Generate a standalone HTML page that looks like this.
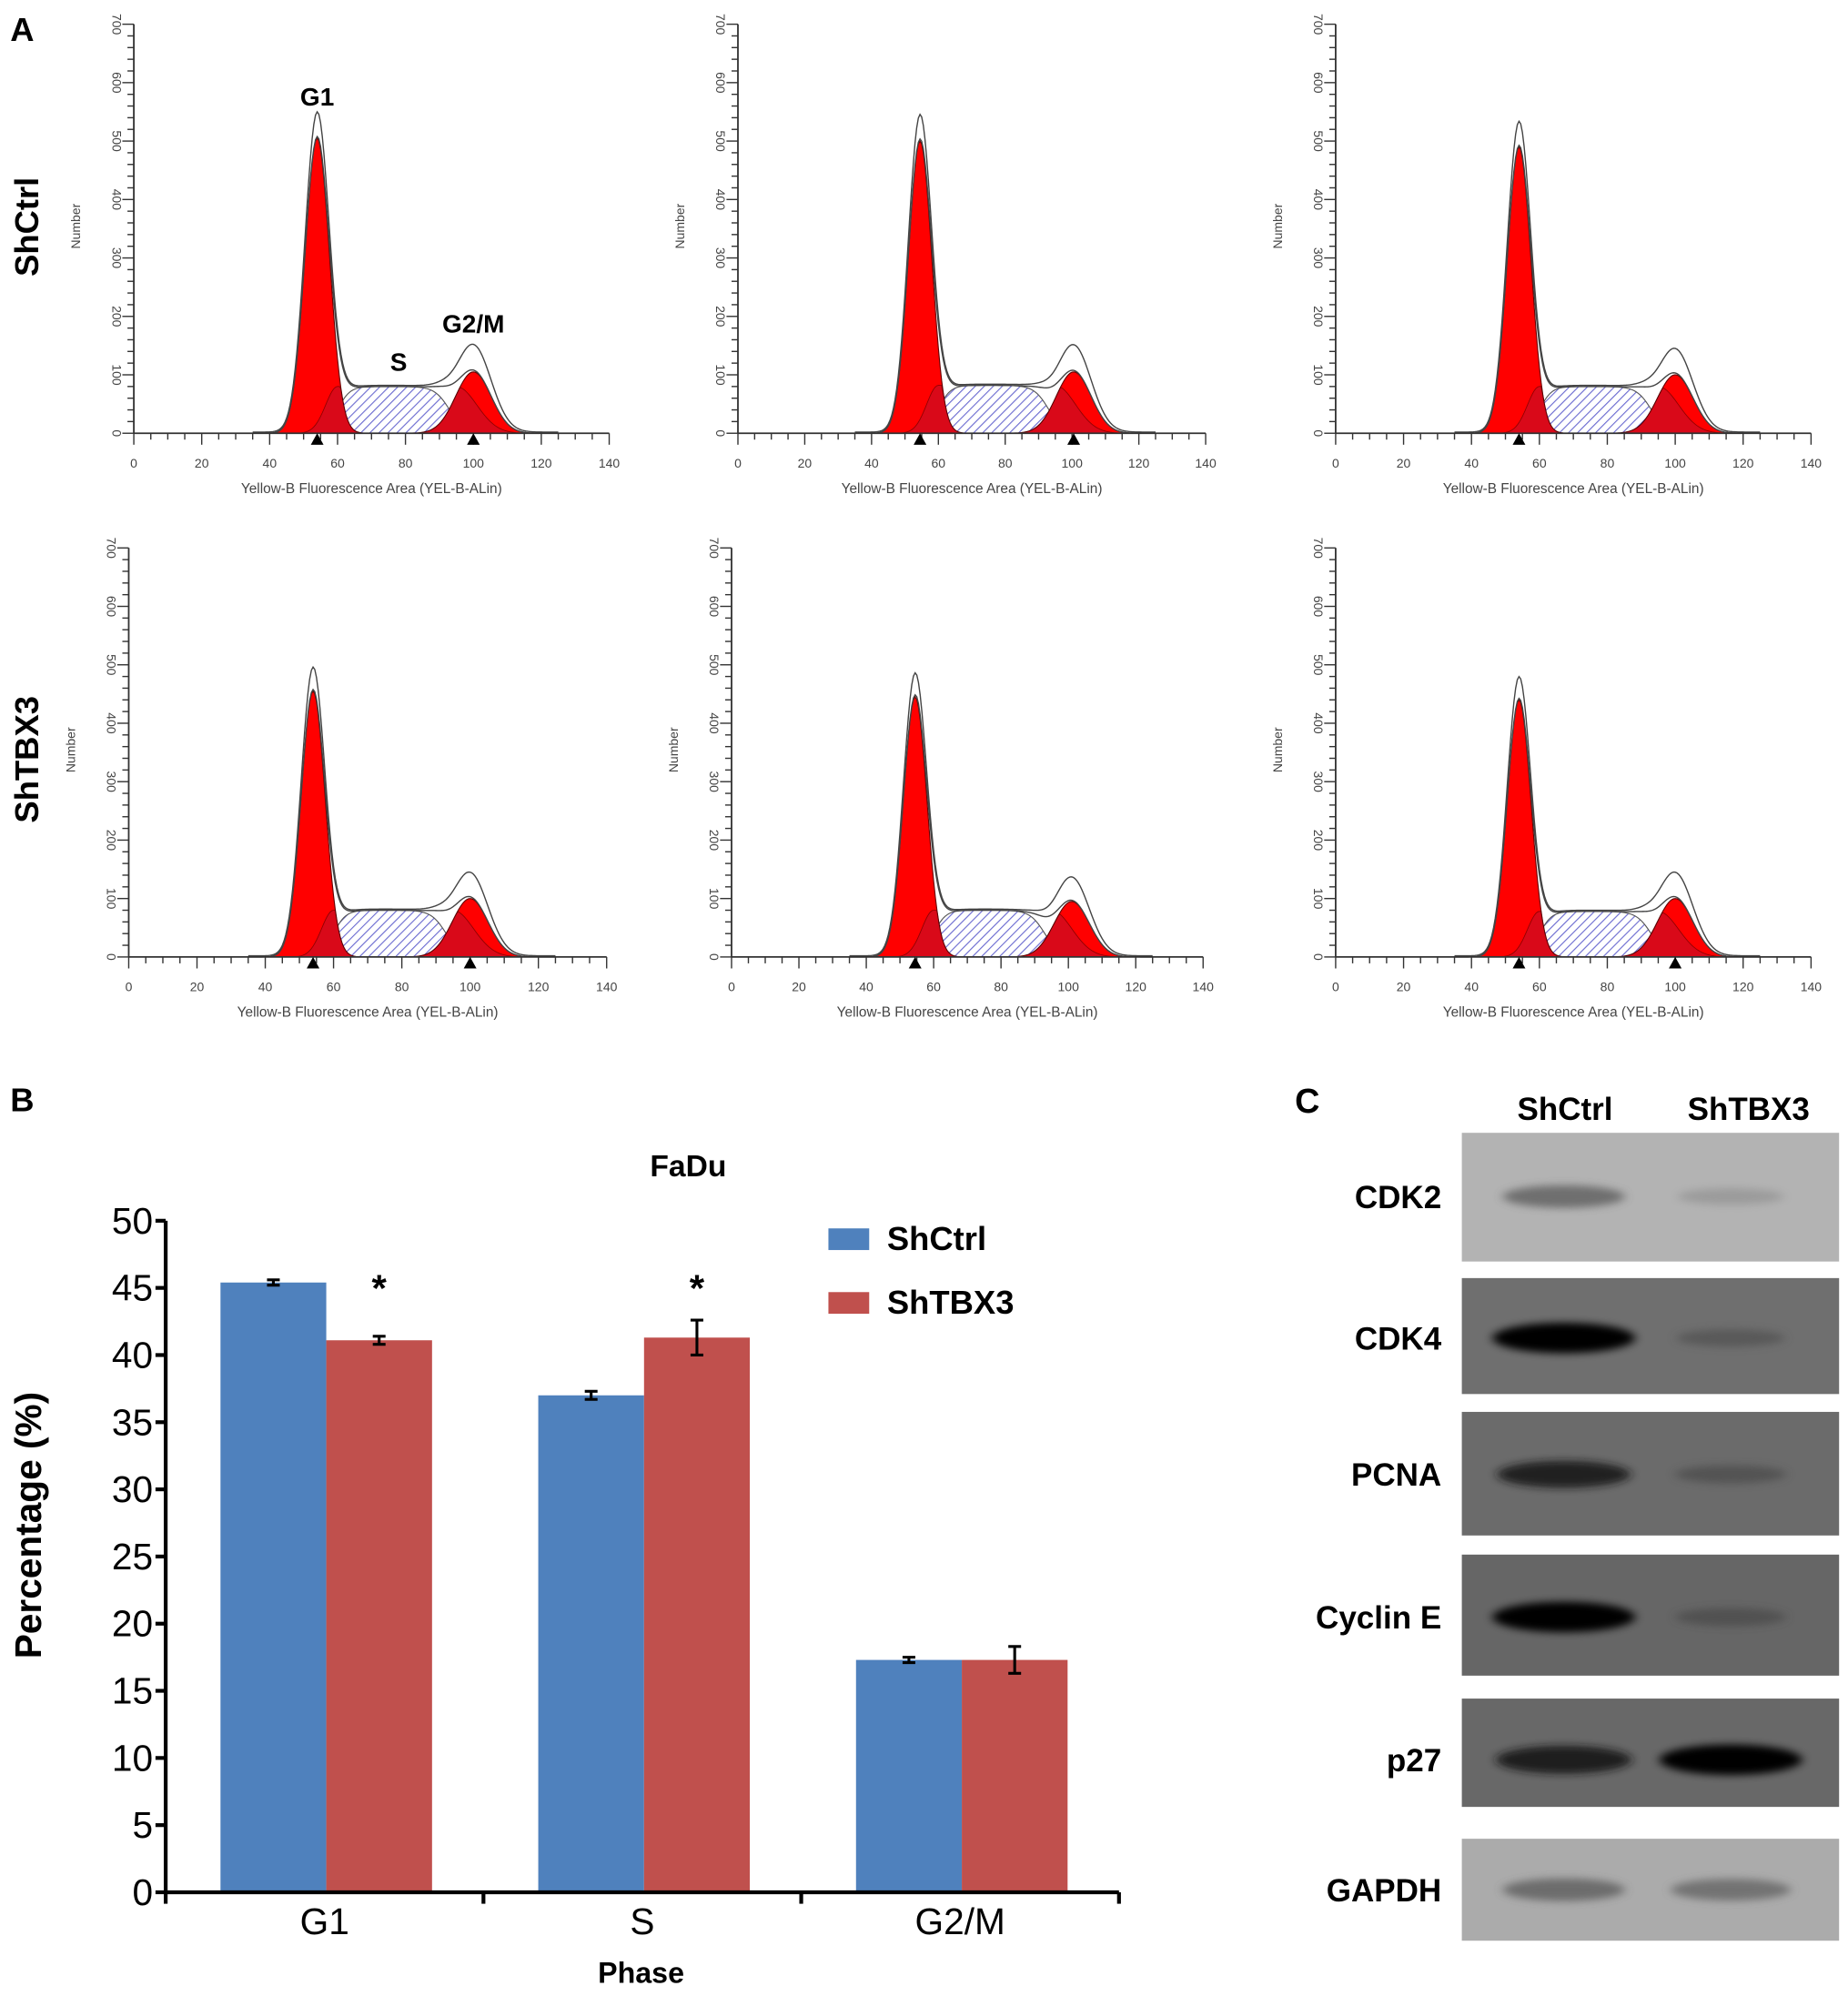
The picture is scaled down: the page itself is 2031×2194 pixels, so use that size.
<!DOCTYPE html>
<html><head><meta charset="utf-8"><style>
html,body{margin:0;padding:0;background:#fff;}
svg{display:block;font-family:"Liberation Sans",Arial,sans-serif;}
</style></head><body>
<svg id="fig" width="2031" height="2194" viewBox="0 0 1450 1566.4" preserveAspectRatio="none" xmlns="http://www.w3.org/2000/svg">
<defs>
<pattern id="hatch" patternUnits="userSpaceOnUse" width="5" height="5" patternTransform="rotate(45)">
<rect width="5" height="5" fill="#fff"/><line x1="0" y1="0" x2="0" y2="5" stroke="#6a6ad0" stroke-width="1.6"/>
</pattern>
<filter id="blur" x="-20%" y="-100%" width="140%" height="300%"><feGaussianBlur stdDeviation="4 3"/></filter>
</defs>
<g id="root"></g>
</svg>
<script>
// ---------- Panel A data (flow histograms) ----------
const panelNames = ['shctrl-1','shctrl-2','shctrl-3','shtbx3-1','shtbx3-2','shtbx3-3'];
const g1Mean = [54, 54.5, 54, 54, 54.5, 54];
const g1Height = [505, 500, 490, 455, 445, 440];
const g1Sd = [3.6, 3.5, 3.5, 3.5, 3.5, 3.5];
const g2Mean = [100, 100.5, 100, 100, 101, 100];
const g2Height = [105, 105, 100, 100, 95, 100];
const g2Sd = [5.2, 5.2, 5.2, 5.2, 5.2, 5.2];
const sHeight = [80, 82, 80, 80, 80, 78];
const sStart = [60, 60, 60, 60, 60, 60];
const sEnd = [93, 93, 93, 93, 93, 93];
const histXTicks = [0,20,40,60,80,100,120,140];
const histYTicks = [0,100,200,300,400,500,600,700];

// ---------- Panel B data ----------
const phases = ['G1','S','G2/M'];
const shCtrl = [45.4, 37.0, 17.3];
const shCtrlErr = [0.2, 0.3, 0.2];
const shTBX3 = [41.1, 41.3, 17.3];
const shTBX3Err = [0.3, 1.3, 1.0];
const sig = [true, true, false];
const barYTicks = [0,5,10,15,20,25,30,35,40,45,50];

// ---------- Panel C data ----------
const proteins = ['CDK2','CDK4','PCNA','Cyclin E','p27','GAPDH'];
const bandCtrl = [0.55, 1.0, 0.8, 1.0, 0.85, 0.55];
const bandTbx = [0.2, 0.25, 0.3, 0.3, 1.0, 0.5];

const NS='http://www.w3.org/2000/svg';
const root=document.getElementById('root');
function el(tag,attrs,parent,text){const e=document.createElementNS(NS,tag);for(const k in attrs)e.setAttribute(k,attrs[k]);if(text!==undefined)e.textContent=text;(parent||root).appendChild(e);return e;}

// labels A
let t;
t=el('text',{x:8,y:32,'font-size':26,'font-weight':'bold'},root,'A');


t=el('text',{transform:'translate(30,178) rotate(-90)','text-anchor':'middle','font-size':26,'font-weight':'bold'},root,'ShCtrl');


t=el('text',{transform:'translate(30,596) rotate(-90)','text-anchor':'middle','font-size':26,'font-weight':'bold'},root,'ShTBX3');



const panelGeom=[
 {x0:105,x1:478,y0:340,y1:19},{x0:579,x1:946,y0:340,y1:19},{x0:1048,x1:1421,y0:340,y1:19},
 {x0:101,x1:476,y0:751,y1:430},{x0:574,x1:944,y0:751,y1:430},{x0:1048,x1:1421,y0:751,y1:430}];

function gauss(x,m,h,s){return h*Math.exp(-0.5*((x-m)/s)**2);}
function plateau(x,a,b,h){return h/(1+Math.exp(-(x-a)/1.8))/(1+Math.exp((x-b)/2.2));}

panelGeom.forEach((g,i)=>{
  const G=el('g',{});
  
  
  const sx=v=>g.x0+(v/140)*(g.x1-g.x0);
  const sy=v=>g.y0-(v/700)*(g.y0-g.y1);
  const xs=[];for(let x=35;x<=125;x+=0.5)xs.push(x);
  const poly=f=>{let d='M'+sx(xs[0])+','+sy(0);xs.forEach(x=>{d+=' L'+sx(x).toFixed(2)+','+sy(f(x)).toFixed(2);});d+=' L'+sx(xs[xs.length-1])+','+sy(0)+' Z';return d;};
  const line=f=>{let d='';xs.forEach((x,k)=>{d+=(k?' L':'M')+sx(x).toFixed(2)+','+sy(f(x)).toFixed(2);});return d;};
  const fg1=x=>gauss(x,g1Mean[i],g1Height[i],g1Sd[i]);
  const fg2=x=>gauss(x,g2Mean[i],g2Height[i],g2Sd[i]);
  const fs=x=>plateau(x,sStart[i],sEnd[i],sHeight[i]);
  const fsFull=x=>sHeight[i]*Math.exp(-0.5*Math.max(0,(sStart[i]-x)/3.5)**2)*Math.exp(-0.5*Math.max(0,(x-sEnd[i]-2)/6)**2);
  let p;
  p=el('path',{d:poly(fs),fill:'url(#hatch)',stroke:'#555','stroke-width':0.8},G);
  
  
  p=el('path',{d:poly(fg1),fill:'#ff0000',stroke:'#600','stroke-width':0.8},G);
  
  
  p=el('path',{d:poly(fg2),fill:'#ff0000',stroke:'#600','stroke-width':0.8},G);
  
  
  el('path',{d:poly(x=>Math.min(fsFull(x),Math.max(fg1(x),fg2(x)))),fill:'#c0102a',opacity:0.6,stroke:'#400','stroke-width':0.6},G);
  p=el('path',{d:line(x=>fg1(x)+fs(x)+fg2(x)),fill:'none',stroke:'#444','stroke-width':1},G);
  
  
  p=el('path',{d:line(x=>fg1(x)*1.08+fs(x)+fg2(x)*1.4+2),fill:'none',stroke:'#444','stroke-width':1},G);
  
  
  // axes
  el('line',{x1:g.x0,y1:g.y0,x2:g.x1,y2:g.y0,stroke:'#333','stroke-width':1.3},G);
  el('line',{x1:g.x0,y1:g.y0,x2:g.x0,y2:g.y1,stroke:'#333','stroke-width':1.3},G);
  for(let v=0;v<=140;v+=5){const maj=v%20===0;el('line',{x1:sx(v),y1:g.y0,x2:sx(v),y2:g.y0+(maj?9:5),stroke:'#333','stroke-width':1},G);}
  for(let v=0;v<=700;v+=20){const maj=v%100===0;el('line',{x1:g.x0,y1:sy(v),x2:g.x0-(maj?9:5),y2:sy(v),stroke:'#333','stroke-width':1},G);}
  histXTicks.forEach(v=>{el('text',{x:sx(v),y:g.y0+27,'text-anchor':'middle','font-size':10,fill:'#444'},G,String(v));});
  histYTicks.forEach(v=>{el('text',{transform:`translate(${g.x0-17},${sy(v)}) rotate(90)`,'text-anchor':'middle','font-size':10,fill:'#444'},G,String(v));});
  el('text',{x:(g.x0+g.x1)/2,y:g.y0+47,'text-anchor':'middle','font-size':11,fill:'#444'},G,'Yellow-B Fluorescence Area (YEL-B-ALin)');
  el('text',{transform:`translate(${g.x0-42},${(g.y0+g.y1)/2-2}) rotate(-90)`,'text-anchor':'middle','font-size':10,fill:'#444'},G,'Number');
  // markers
  [g1Mean[i], i===0||i===1||i===5||i===3?g2Mean[i]:null].forEach(m=>{if(m===null)return;const cx=sx(m);el('path',{d:`M${cx-5},${g.y0+9} L${cx+5},${g.y0+9} L${cx},${g.y0} Z`,fill:'#000'},G);});
  if(i===0){
    el('text',{x:sx(54),y:83,'text-anchor':'middle','font-size':20,'font-weight':'bold'},G,'G1');
    el('text',{x:sx(78),y:291,'text-anchor':'middle','font-size':20,'font-weight':'bold'},G,'S');
    el('text',{x:sx(100),y:261,'text-anchor':'middle','font-size':20,'font-weight':'bold'},G,'G2/M');
  }
});

// ---------- Panel B ----------
t=el('text',{x:8,y:872,'font-size':26,'font-weight':'bold'},root,'B');


const B={x0:130,x1:878,y0:1485,y1:958};
const by=v=>B.y0-(v/50)*(B.y0-B.y1);
const groupW=(B.x1-B.x0)/3, barW=83;
const bx=(gi,s)=>B.x0+groupW*gi+43+s*barW;
const BG=el('g',{});


el('text',{x:540,y:923,'text-anchor':'middle','font-size':24,'font-weight':'bold'},BG,'FaDu');
phases.forEach((ph,gi)=>{
  [[shCtrl,shCtrlErr,'#4f81bd',0],[shTBX3,shTBX3Err,'#c0504d',1]].forEach(([vals,errs,col,s])=>{
    const r=el('rect',{x:bx(gi,s),y:by(vals[gi]),width:barW,height:B.y0-by(vals[gi]),fill:col},BG);
    
    
    const cx=bx(gi,s)+barW/2;
    el('path',{d:`M${cx},${by(vals[gi]+errs[gi])} V${by(vals[gi]-errs[gi])} M${cx-5},${by(vals[gi]+errs[gi])} H${cx+5} M${cx-5},${by(vals[gi]-errs[gi])} H${cx+5}`,stroke:'#000','stroke-width':2.2,fill:'none'},BG);
  });
  if(sig[gi]){const cx=bx(gi,1)+barW/2;const st=el('text',{x:cx,y:by(Math.max(shTBX3[gi]+shTBX3Err[gi],0))-8,'text-anchor':'middle','font-size':30,'font-weight':'bold'},BG,'*');
    
    
    st.setAttribute('y', Math.min(by(shTBX3[gi]+shTBX3Err[gi])-6, by(44)));}
  el('text',{x:B.x0+groupW*(gi+0.5),y:1518,'text-anchor':'middle','font-size':29},BG,ph);
});
el('line',{x1:B.x0,y1:B.y0,x2:B.x1,y2:B.y0,stroke:'#000','stroke-width':3},BG);
el('line',{x1:B.x0,y1:B.y0,x2:B.x0,y2:B.y1,stroke:'#000','stroke-width':3},BG);
for(let k=0;k<=3;k++)el('line',{x1:B.x0+groupW*k,y1:B.y0,x2:B.x0+groupW*k,y2:B.y0+9,stroke:'#000','stroke-width':3},BG);
barYTicks.forEach(v=>{
  el('line',{x1:B.x0,y1:by(v),x2:B.x0-8,y2:by(v),stroke:'#000','stroke-width':3},BG);
  el('text',{x:B.x0-10,y:by(v)+10,'text-anchor':'end','font-size':29},BG,String(v));
});
el('text',{transform:'translate(32,1197) rotate(-90)','text-anchor':'middle','font-size':29,'font-weight':'bold'},BG,'Percentage (%)');
el('text',{x:503,y:1556,'text-anchor':'middle','font-size':23,'font-weight':'bold'},BG,'Phase');
let lg=el('g',{},BG);


el('rect',{x:650,y:964,width:32,height:17,fill:'#4f81bd'},lg);
el('text',{x:696,y:981,'font-size':26,'font-weight':'bold'},lg,'ShCtrl');
el('rect',{x:650,y:1014,width:32,height:17,fill:'#c0504d'},lg);
el('text',{x:696,y:1031,'font-size':26,'font-weight':'bold'},lg,'ShTBX3');

// ---------- Panel C ----------
t=el('text',{x:1016,y:873,'font-size':27,'font-weight':'bold'},root,'C');


el('text',{x:1228,y:879,'text-anchor':'middle','font-size':25,'font-weight':'bold'},root,'ShCtrl');
el('text',{x:1372,y:879,'text-anchor':'middle','font-size':25,'font-weight':'bold'},root,'ShTBX3');
const boxY=[[889,990],[1003,1094],[1108,1205],[1220,1315],[1333,1418],[1443,1523]];
const boxFill=['#b3b3b3','#6f6f6f','#6b6b6b','#666666','#686868','#ababab'];
const bandY=[939,1050,1157,1269,1381,1483];
proteins.forEach((p,i)=>{
  const G=el('g',{});
  
  
  el('rect',{x:1147,y:boxY[i][0],width:296,height:boxY[i][1]-boxY[i][0],fill:boxFill[i]},G);
  const base=i===0||i===5?[175,175,175]:[100,100,100];
  [[bandCtrl[i],1227],[bandTbx[i],1358]].forEach(([v,cx])=>{
    const shade=Math.round(base[0]*(1-v)*0.9+ (i===0||i===5?20:5)*v);
    el('ellipse',{cx:cx,cy:bandY[i],rx:38+v*18,ry:5+v*7,fill:`rgb(${shade},${shade},${shade})`,opacity:0.35+0.65*v,filter:'url(#blur)'},G);
  });
  el('text',{x:1131,y:bandY[i]+9,'text-anchor':'end','font-size':25,'font-weight':'bold'},G,p);
});
</script>
</body></html>
